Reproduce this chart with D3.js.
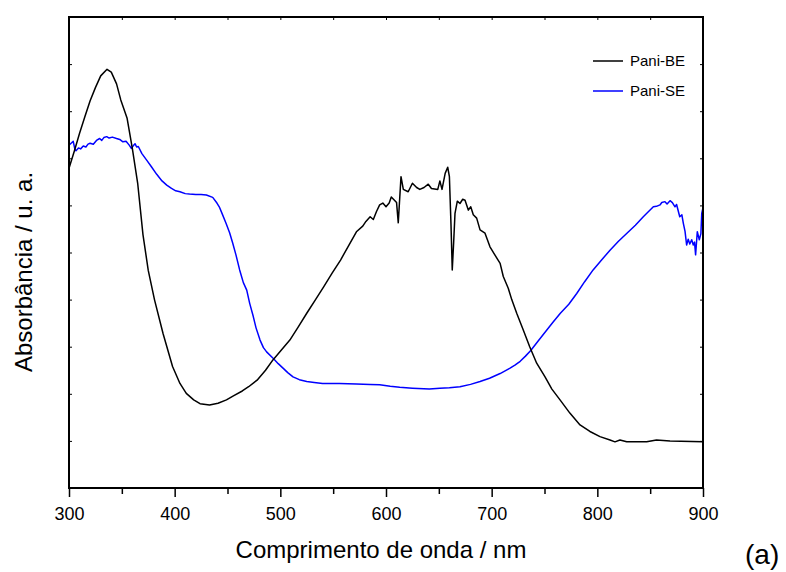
<!DOCTYPE html>
<html>
<head>
<meta charset="utf-8">
<script src="https://cdn.jsdelivr.net/npm/d3@7"></script>
<style>
  body { margin: 0; background: #fff; }
  svg text { font-family: "Liberation Sans", Arial, sans-serif; fill: #000; }
</style>
</head>
<body>
<svg id="chart" width="786" height="572"></svg>
<script>
// Pani-BE (black)
var beWave = [300,305,310,315,320,325,330,336,340,345,349,355,360,365,370,375,381,389,398,405,411,418,424,433,441,449,456,464,470,478,486,493,501,509,517,525,533,541,549,557,566,572,578,581,585,588,591,594,597,600,603,605,608,610,611.6,614.2,616.4,621,625,629,632,636,640,643,649,651,653,656,658.4,660,661.5,662.7,664,665.3,667.5,670,672.6,674.8,677.9,680.2,682.6,685.8,689,693.7,698.4,703,708,711,715.7,719,723.7,730,736,742.6,750.5,757,764.7,774,783.6,793,802.5,812,816.7,821.4,827.8,846.7,856,868.8,900];
var beAbs = [6.79,7.15,7.53,7.88,8.22,8.50,8.75,8.89,8.83,8.58,8.24,7.85,7.20,6.47,5.38,4.62,3.99,3.28,2.58,2.22,2.01,1.87,1.79,1.76,1.80,1.87,1.96,2.06,2.15,2.29,2.50,2.72,2.93,3.14,3.42,3.71,3.99,4.27,4.56,4.84,5.20,5.44,5.56,5.66,5.76,5.70,5.87,6.01,6.05,5.97,6.05,6.18,6.11,6.06,5.63,6.61,6.34,6.29,6.47,6.38,6.34,6.38,6.45,6.36,6.34,6.52,6.34,6.68,6.81,6.61,5.60,4.63,5.20,5.83,6.09,6.04,6.13,6.11,5.90,5.97,5.80,5.73,5.48,5.41,5.12,4.95,4.77,4.49,4.24,4.00,3.71,3.35,3.00,2.65,2.36,2.10,1.87,1.59,1.34,1.20,1.09,1.02,0.98,1.02,0.98,0.98,1.02,1.00,0.98];

// Pani-SE (blue)
var seWave = [300,302,304,305.5,306.6,309,311,313.5,316,318,320,323,326,329,331,333,335.7,338,341,345,348,351,354,357,359,361,362.5,364,365.6,369,373.5,378,383,388,392.5,397,401,405,410,414,420,425,430,436,440,442.2,445,448.6,452,454.9,458,461.5,465,468.2,471,474.4,477,480.8,484,487,493.4,498,502.8,507,512,518,525,532,540,556,572,585,594,604,613,625,641,651,660,670,680,689,698,708,717,722,727,732,737,744,752,758,765,773,780.5,788,796,804,812,820,828,836,843.5,848,853,856,859.3,861,864,866,868.8,871,873.5,875,878,880,881.4,883,884.5,886,887.5,889.3,890.8,892,893,894.6,896.5,898,898.8,900];
var seAbs = [7.28,7.32,7.36,7.20,7.16,7.22,7.20,7.26,7.24,7.30,7.32,7.30,7.38,7.42,7.38,7.44,7.46,7.43,7.45,7.42,7.40,7.35,7.36,7.28,7.21,7.27,7.31,7.24,7.25,7.10,6.96,6.82,6.66,6.52,6.43,6.36,6.31,6.29,6.25,6.24,6.23,6.23,6.22,6.17,6.05,5.97,5.82,5.62,5.42,5.20,4.95,4.63,4.36,4.20,3.92,3.64,3.40,3.14,2.98,2.89,2.75,2.64,2.54,2.45,2.36,2.30,2.26,2.24,2.22,2.22,2.21,2.20,2.19,2.16,2.14,2.12,2.10,2.12,2.13,2.15,2.20,2.26,2.33,2.43,2.54,2.61,2.69,2.80,2.92,3.12,3.35,3.52,3.71,3.90,4.13,4.38,4.63,4.84,5.05,5.24,5.41,5.58,5.76,5.86,5.97,5.98,6.01,6.06,6.08,6.03,6.10,6.06,5.97,6.02,5.76,5.80,5.62,5.45,5.16,5.28,5.18,5.27,5.16,5.22,4.95,5.44,5.27,5.40,5.83,5.95];

var xMajor = [300,400,500,600,700,800,900];
var xMinor = [350,450,550,650,750,850];
var yTicks = [1,2,3,4,5,6,7,8,9];

var seriesNames = ["Pani-BE","Pani-SE"];
var seriesColors = ["#000000","#0000ff"];

var svg = d3.select("#chart"),
    margin = {top: 17, left: 69},
    width = 634,
    height = 471;

var g = svg.append("g").attr("transform", "translate(" + margin.left + "," + margin.top + ")");

var x = d3.scaleLinear().domain([300, 900]).range([0, width]);
var y = d3.scaleLinear().domain([0, 10]).range([height, 0]);

// bottom axis, outward ticks
g.append("g")
    .attr("transform", "translate(0," + height + ")")
    .call(d3.axisBottom(x).tickValues(xMajor).tickFormat(d3.format("d")).tickSize(9).tickPadding(10))
    .call(function(a) {
      a.select(".domain").remove();
      a.selectAll("line").attr("stroke-width", 1.5);
      a.selectAll("text").style("font-size", "18px");
    });

g.append("g")
    .attr("transform", "translate(0," + height + ")")
    .call(d3.axisBottom(x).tickValues(xMinor).tickFormat("").tickSize(6))
    .call(function(a) {
      a.select(".domain").remove();
      a.selectAll("line").attr("stroke-width", 1.5);
    });

// small inner ticks on the other sides
g.append("g")
    .call(d3.axisLeft(y).tickValues(yTicks).tickFormat("").tickSize(-3))
    .call(function(a) { a.select(".domain").remove(); });

g.append("g")
    .attr("transform", "translate(" + width + ",0)")
    .call(d3.axisRight(y).tickValues(yTicks).tickFormat("").tickSize(-3))
    .call(function(a) { a.select(".domain").remove(); });

g.append("g")
    .call(d3.axisTop(x).tickValues(xMinor.concat(xMajor)).tickFormat("").tickSize(-3))
    .call(function(a) { a.select(".domain").remove(); });

var line = d3.line()
    .x(function(d) { return x(d[0]); })
    .y(function(d) { return y(d[1]); });

var series = [d3.zip(beWave, beAbs), d3.zip(seWave, seAbs)];

g.append("path")
    .datum(series[1])
    .attr("fill", "none")
    .attr("stroke", seriesColors[1])
    .attr("stroke-width", 1.5)
    .attr("stroke-linejoin", "round")
    .attr("d", line);

g.append("path")
    .datum(series[0])
    .attr("fill", "none")
    .attr("stroke", seriesColors[0])
    .attr("stroke-width", 1.5)
    .attr("stroke-linejoin", "round")
    .attr("d", line);

// frame
g.append("rect")
    .attr("width", width)
    .attr("height", height)
    .attr("fill", "none")
    .attr("stroke", "#000")
    .attr("stroke-width", 2);

// legend
var legend = g.selectAll(".legend")
    .data(seriesNames)
    .enter().append("g")
    .attr("transform", function(d, i) { return "translate(524," + (44 + i * 30) + ")"; });

legend.append("line")
    .attr("x1", 0).attr("x2", 30)
    .attr("stroke", function(d, i) { return seriesColors[i]; })
    .attr("stroke-width", 1.5);

legend.append("text")
    .attr("x", 37)
    .attr("dy", "0.35em")
    .style("font-size", "15px")
    .text(function(d) { return d; });

// axis titles
svg.append("text")
    .attr("x", 381)
    .attr("y", 558)
    .attr("text-anchor", "middle")
    .style("font-size", "24px")
    .text("Comprimento de onda / nm");

svg.append("text")
    .attr("transform", "translate(32,272) rotate(-90)")
    .attr("text-anchor", "middle")
    .style("font-size", "24px")
    .text("Absorbância / u. a.");

svg.append("text")
    .attr("x", 745)
    .attr("y", 564)
    .style("font-size", "28px")
    .text("(a)");
</script>
</body>
</html>
